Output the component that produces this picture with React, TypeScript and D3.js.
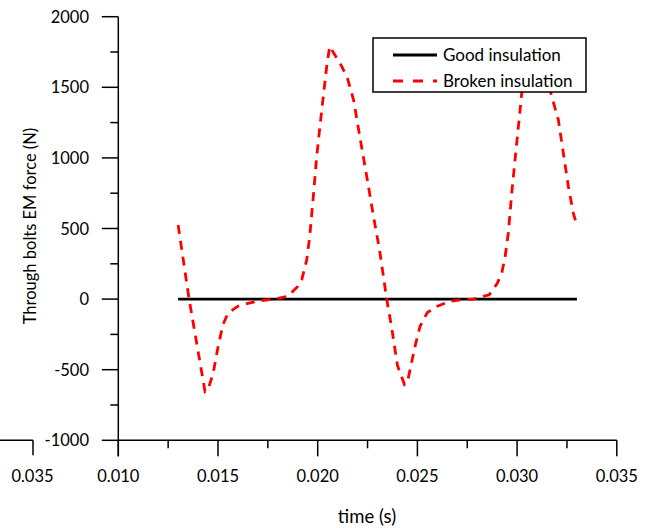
import React from "react";
import * as d3 from "d3";

const brokenTime = [
  0.0130, 0.01355, 0.01435, 0.0145, 0.01475, 0.0150, 0.01525, 0.0155, 0.0160, 0.0165, 0.0170, 0.0175,
  0.0180, 0.0185, 0.0190, 0.0192, 0.01945, 0.0196, 0.01978, 0.01995, 0.02011, 0.02028, 0.02045, 0.0206,
  0.0209, 0.0212, 0.0215, 0.0218, 0.0221, 0.02246, 0.0228, 0.0231, 0.02346, 0.0237, 0.0240, 0.02435,
  0.0245, 0.02463, 0.02488, 0.02513, 0.0255, 0.0260, 0.0266, 0.0272, 0.0278, 0.0286, 0.0290, 0.02923,
  0.0294, 0.02956, 0.02973, 0.02998, 0.03015, 0.0303, 0.0305, 0.0308, 0.0312, 0.0315, 0.03181, 0.03207,
  0.03232, 0.03257, 0.03282, 0.0330,
];
const brokenForce = [
  525, 0, -655, -640, -530, -340, -180, -100, -50, -30, -15, -5,
  5, 20, 90, 137, 278, 443, 726, 1009, 1221, 1434, 1646, 1790,
  1720, 1650, 1560, 1410, 1160, 868, 585, 350, 0, -194, -470, -605,
  -590, -500, -335, -194, -95, -50, -17, -5, 0, 30, 110, 184,
  302, 467, 750, 1104, 1340, 1560, 1760, 1780, 1680, 1560, 1398, 1269,
  1033, 797, 609, 519,
];
const goodTime = [0.013, 0.033];
const goodForce = [0, 0];

const xTicks = [0.010, 0.015, 0.020, 0.025, 0.030, 0.035];
const xMinorTicks = [0.0125, 0.0175, 0.0225, 0.0275, 0.0325];
const yTicks = [-1000, -500, 0, 500, 1000, 1500, 2000];
const yMinorTicks = [-750, -250, 250, 750, 1250, 1750];

const seriesNames = ["Good insulation", "Broken insulation"];
const FONT = "Lato, 'Open Sans', sans-serif";

export default function App() {
  const x = d3.scaleLinear().domain([0.010, 0.035]).range([118.3, 616.8]);
  const y = d3.scaleLinear().domain([-1000, 2000]).range([440.3, 16.7]);
  const x0 = x(0.010);
  const yb = y(-1000);

  const line = d3
    .line<[number, number]>()
    .x((d) => x(d[0]))
    .y((d) => y(d[1]));
  const brokenPts = brokenTime.map((t, i) => [t, brokenForce[i]] as [number, number]);
  const goodPts = goodTime.map((t, i) => [t, goodForce[i]] as [number, number]);

  return (
    <svg
      width={646}
      height={528}
      style={{ position: "absolute", left: 0, top: 0, background: "#fff" }}
      fontFamily={FONT}
    >
      {/* stray left axis fragment */}
      <line x1={0} x2={33} y1={yb} y2={yb} stroke="#000" strokeWidth={1.5} />
      <line x1={33} x2={33} y1={yb} y2={yb + 15} stroke="#000" strokeWidth={1.5} />
      <text x={32.5} y={482} fontSize={16.5} textAnchor="middle" fill="#000">0.035</text>

      {/* axes */}
      <line x1={x0} x2={x0} y1={y(2000)} y2={yb + 16} stroke="#000" strokeWidth={1.5} />
      <line x1={x0} x2={x(0.035)} y1={yb} y2={yb} stroke="#000" strokeWidth={1.5} />
      {yTicks.map((v) => (
        <g key={"yt" + v}>
          <line x1={x0 - 16.5} x2={x0} y1={y(v)} y2={y(v)} stroke="#000" strokeWidth={1.5} />
          <text x={89} y={y(v) + 6} fontSize={16.5} textAnchor="end" fill="#000">{v}</text>
        </g>
      ))}
      {yMinorTicks.map((v) => (
        <line key={"ym" + v} x1={x0 - 8} x2={x0} y1={y(v)} y2={y(v)} stroke="#000" strokeWidth={1.5} />
      ))}
      {xTicks.map((v) => (
        <g key={"xt" + v}>
          <line x1={x(v)} x2={x(v)} y1={yb} y2={yb + 16} stroke="#000" strokeWidth={1.5} />
          <text x={x(v)} y={482} fontSize={16.5} textAnchor="middle" fill="#000">{v.toFixed(3)}</text>
        </g>
      ))}
      {xMinorTicks.map((v) => (
        <line key={"xm" + v} x1={x(v)} x2={x(v)} y1={yb} y2={yb + 8} stroke="#000" strokeWidth={1.5} />
      ))}

      <text x={367} y={523} fontSize={18.5} textAnchor="middle" fill="#000">time (s)</text>
      <text
        transform={`translate(36,226) rotate(-90)`}
        fontSize={16.5}
        textAnchor="middle"
        fill="#000"
      >
        Through bolts EM force (N)
      </text>

      {/* series */}
      <path d={line(goodPts) || ""} fill="none" stroke="#000" strokeWidth={2.8} />
      <path
        d={line(brokenPts) || ""}
        fill="none"
        stroke="#ff0000"
        strokeWidth={2.8}
        strokeDasharray="9,7"
      />

      {/* legend */}
      <rect x={373} y={38} width={213} height={54} fill="#fff" stroke="#000" strokeWidth={1.5} />
      <line x1={393} x2={437} y1={55} y2={55} stroke="#000" strokeWidth={2.8} />
      <line x1={393} x2={437} y1={81} y2={81} stroke="#ff0000" strokeWidth={2.8} strokeDasharray="10,10" />
      <text x={443} y={61} fontSize={17} fill="#000">{seriesNames[0]}</text>
      <text x={443} y={87} fontSize={17} fill="#000">{seriesNames[1]}</text>
    </svg>
  );
}
